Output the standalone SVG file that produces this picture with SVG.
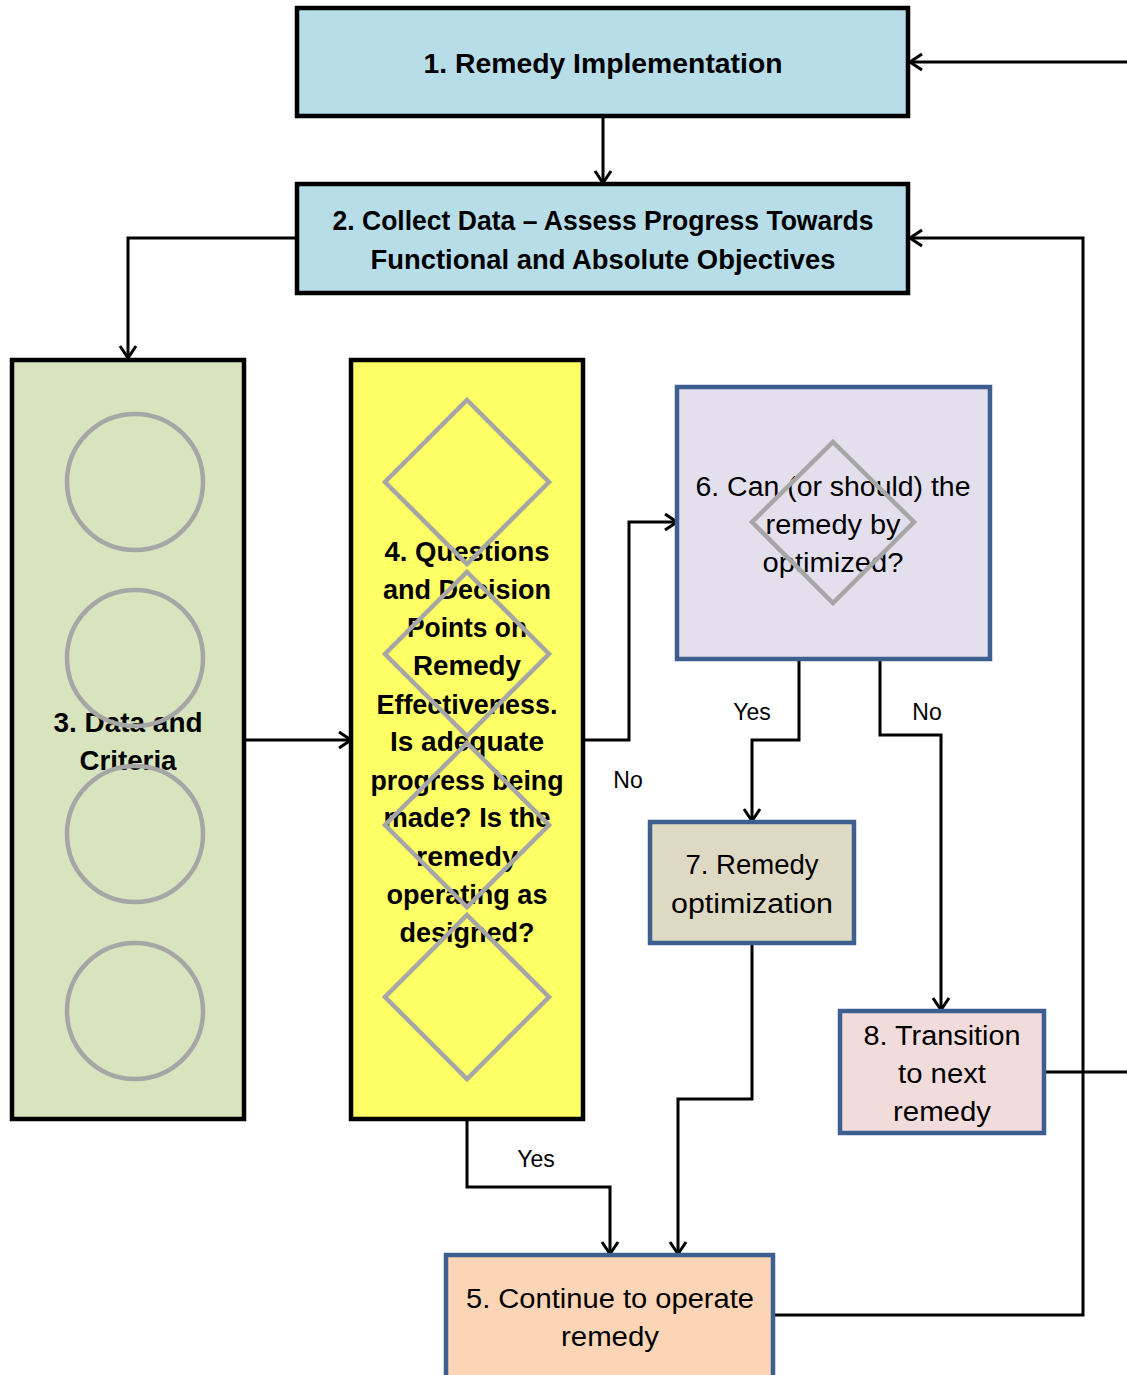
<svg xmlns="http://www.w3.org/2000/svg" width="1127" height="1375" viewBox="0 0 1127 1375">
<defs>
<marker id="arr" viewBox="0 0 20 20" refX="18" refY="10" markerWidth="20" markerHeight="20" markerUnits="userSpaceOnUse" orient="auto">
<path d="M6,2 L18,10 L6,18" fill="none" stroke="#000" stroke-width="3"/>
</marker>
<style>
.t{font-family:"Liberation Sans",Arial,sans-serif;text-anchor:middle;fill:#000}
.b{font-weight:bold;font-size:27px}
.r{font-size:27px}
.l{font-size:23px}
.kb{stroke:#000;stroke-width:4.5}
.bb{stroke:#3c5f8f;stroke-width:4.5}
.g{fill:none;stroke:#a6a6a6;stroke-width:4.5}
.c{fill:none;stroke:#000;stroke-width:3}
</style>
</defs>
<rect width="1127" height="1375" fill="#fff"/>
<g id="connectors">
<path class="c" d="M1127,62 H910" marker-end="url(#arr)"/>
<path class="c" d="M603,117 V183" marker-end="url(#arr)"/>
<path class="c" d="M297,238 H128 V358" marker-end="url(#arr)"/>
<path class="c" d="M245,740 H351" marker-end="url(#arr)"/>
<path class="c" d="M584,740 H629 V522 H677" marker-end="url(#arr)"/>
<path class="c" d="M799,660 V740 H752 V821" marker-end="url(#arr)"/>
<path class="c" d="M880,660 V735 H941 V1010" marker-end="url(#arr)"/>
<path class="c" d="M752,944 V1099 H678 V1254" marker-end="url(#arr)"/>
<path class="c" d="M467,1120 V1187 H610 V1254" marker-end="url(#arr)"/>
<path class="c" d="M1045,1072 H1127"/>
<path class="c" d="M774,1315 H1083 V238 H910" marker-end="url(#arr)"/>
<text class="t l" x="628" y="788">No</text>
<text class="t l" x="752" y="720">Yes</text>
<text class="t l" x="927" y="720">No</text>
<text class="t l" x="536" y="1167">Yes</text>
</g>
<g id="node1">
<rect x="297" y="8" width="611" height="108" fill="#b7dde8" class="kb"/>
<text class="t b" x="603" y="73" textLength="359" lengthAdjust="spacingAndGlyphs">1. Remedy Implementation</text>
</g>
<g id="node2">
<rect x="297" y="184" width="611" height="109" fill="#b7dde8" class="kb"/>
<text class="t b" x="603" y="230" textLength="541" lengthAdjust="spacingAndGlyphs">2. Collect Data – Assess Progress Towards</text>
<text class="t b" x="603" y="269" textLength="465" lengthAdjust="spacingAndGlyphs">Functional and Absolute Objectives</text>
</g>
<g id="node3">
<rect x="12" y="360" width="232" height="759" fill="#d7e4bd" class="kb"/>
<text class="t b" x="128" y="732" textLength="149" lengthAdjust="spacingAndGlyphs">3. Data and</text>
<text class="t b" x="128" y="770" textLength="97" lengthAdjust="spacingAndGlyphs">Criteria</text>
<circle class="g" cx="135" cy="482" r="68"/>
<circle class="g" cx="135" cy="658" r="68"/>
<circle class="g" cx="135" cy="834" r="68"/>
<circle class="g" cx="135" cy="1011" r="68"/>
</g>
<g id="node4">
<rect x="351" y="360" width="232" height="759" fill="#ffff66" class="kb"/>
<text class="t b" x="467" y="561" textLength="165" lengthAdjust="spacingAndGlyphs">4. Questions</text>
<text class="t b" x="467" y="599" textLength="168" lengthAdjust="spacingAndGlyphs">and Decision</text>
<text class="t b" x="467" y="637" textLength="120" lengthAdjust="spacingAndGlyphs">Points on</text>
<text class="t b" x="467" y="675" textLength="108" lengthAdjust="spacingAndGlyphs">Remedy</text>
<text class="t b" x="467" y="714" textLength="181" lengthAdjust="spacingAndGlyphs">Effectiveness.</text>
<text class="t b" x="467" y="751" textLength="154" lengthAdjust="spacingAndGlyphs">Is adequate</text>
<text class="t b" x="467" y="790" textLength="193" lengthAdjust="spacingAndGlyphs">progress being</text>
<text class="t b" x="467" y="827" textLength="167" lengthAdjust="spacingAndGlyphs">made? Is the</text>
<text class="t b" x="467" y="866" textLength="102" lengthAdjust="spacingAndGlyphs">remedy</text>
<text class="t b" x="467" y="904" textLength="161" lengthAdjust="spacingAndGlyphs">operating as</text>
<text class="t b" x="467" y="942" textLength="135" lengthAdjust="spacingAndGlyphs">designed?</text>
<path class="g" d="M467,400 L549,482 L467,564 L385,482 Z"/>
<path class="g" d="M467,572 L549,654 L467,736 L385,654 Z"/>
<path class="g" d="M467,743 L549,825 L467,907 L385,825 Z"/>
<path class="g" d="M467,915 L549,997 L467,1079 L385,997 Z"/>
</g>
<g id="node6">
<rect x="677" y="387" width="313" height="272" fill="#e4dfec" class="bb"/>
<text class="t r" x="833" y="496" textLength="275" lengthAdjust="spacingAndGlyphs">6. Can (or should) the</text>
<text class="t r" x="833" y="534" textLength="135" lengthAdjust="spacingAndGlyphs">remedy by</text>
<text class="t r" x="833" y="572" textLength="141" lengthAdjust="spacingAndGlyphs">optimized?</text>
<path class="g" d="M833,442 L914,522 L833,603 L752,522 Z"/>
</g>
<g id="node7">
<rect x="650" y="822" width="204" height="121" fill="#ddd9c3" class="bb"/>
<text class="t r" x="752" y="874" textLength="133" lengthAdjust="spacingAndGlyphs">7. Remedy</text>
<text class="t r" x="752" y="913" textLength="162" lengthAdjust="spacingAndGlyphs">optimization</text>
</g>
<g id="node8">
<rect x="840" y="1011" width="204" height="122" fill="#f2dcdb" class="bb"/>
<text class="t r" x="942" y="1045" textLength="157" lengthAdjust="spacingAndGlyphs">8. Transition</text>
<text class="t r" x="942" y="1083" textLength="88" lengthAdjust="spacingAndGlyphs">to next</text>
<text class="t r" x="942" y="1121" textLength="98" lengthAdjust="spacingAndGlyphs">remedy</text>
</g>
<g id="node5">
<rect x="446" y="1255" width="327" height="130" fill="#fbd5b5" class="bb"/>
<text class="t r" x="610" y="1308" textLength="288" lengthAdjust="spacingAndGlyphs">5. Continue to operate</text>
<text class="t r" x="610" y="1346" textLength="98" lengthAdjust="spacingAndGlyphs">remedy</text>
</g>
</svg>
